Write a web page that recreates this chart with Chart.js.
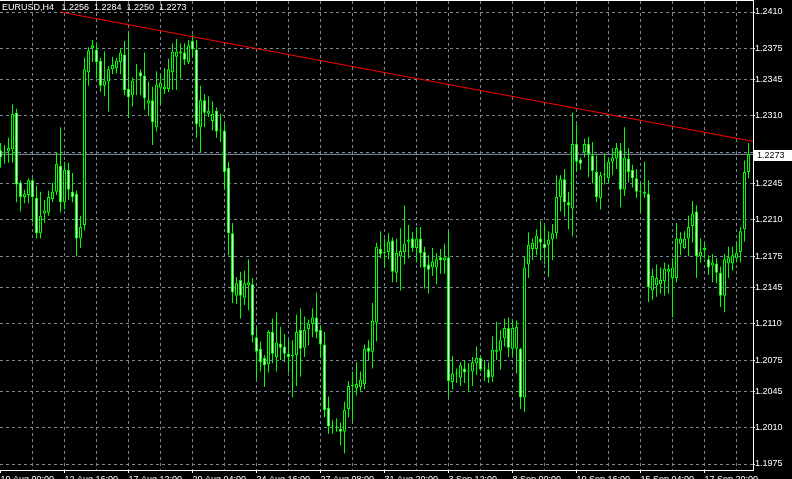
<!DOCTYPE html>
<html><head><meta charset="utf-8">
<style>html,body{margin:0;padding:0;background:#000;overflow:hidden}#c{display:block}</style>
<script src="https://cdn.jsdelivr.net/npm/chart.js@4.4.1/dist/chart.umd.min.js"></script>
</head><body>
<canvas id="c" width="792" height="479"></canvas>
<script>
const titleText = 'EURUSD,H4   1.2256  1.2284  1.2250  1.2273';
const opens = [
1.2277,1.2274,1.2276,1.2278,1.2313,1.2246,1.2232,1.2234,1.2248,1.2231,
1.2197,1.2216,1.2217,1.2230,1.2237,1.2262,1.2227,1.2258,1.2237,1.2235,
1.2192,1.2205,1.2352,1.2375,1.2374,1.2363,1.2339,1.2343,1.2355,1.2356,
1.2362,1.2369,1.2336,1.2330,1.2344,1.2352,1.2349,1.2322,1.2325,1.2299,
1.2337,1.2336,1.2336,1.2352,1.2367,1.2370,1.2371,1.2362,1.2382,1.2374,
1.2299,1.2325,1.2312,1.2305,1.2315,1.2296,1.2296,1.2260,1.2197,1.2137,
1.2152,1.2135,1.2147,1.2148,1.2097,1.2086,1.2077,1.2071,1.2102,1.2078,
1.2091,1.2088,1.2081,1.2079,1.2080,1.2104,1.2087,1.2105,1.2110,1.2116,
1.2104,1.2090,1.2029,1.2011,1.2011,1.2009,1.2006,1.2028,1.2050,1.2048,
1.2049,1.2052,1.2087,1.2083,1.2111,1.2182,1.2178,1.2179,1.2190,1.2159,
1.2175,1.2179,1.2189,1.2192,1.2183,1.2192,1.2179,1.2167,1.2164,1.2164,
1.2174,1.2171,1.2174,1.2054,1.2062,1.2058,1.2067,1.2065,1.2064,1.2072,
1.2077,1.2067,1.2066,1.2059,1.2085,1.2084,1.2096,1.2106,1.2086,1.2086,
1.2086,1.2039,1.2167,1.2182,1.2182,1.2192,1.2187,1.2186,1.2191,1.2197,
1.2232,1.2249,1.2227,1.2221,1.2283,1.2268,1.2275,1.2283,1.2272,1.2256,
1.2231,1.2253,1.2250,1.2266,1.2269,1.2277,1.2239,1.2269,1.2258,1.2250,
1.2237,1.2235,1.2235,1.2142,1.2147,1.2148,1.2151,1.2160,1.2154,1.2154,
1.2187,1.2183,1.2192,1.2204,1.2218,1.2175,1.2183,1.2172,1.2166,1.2168,
1.2159,1.2137,1.2168,1.2168,1.2173,1.2179,1.2201,1.2256];
const highs = [
1.2284,1.2282,1.2289,1.2321,1.2317,1.2248,1.2239,1.2250,1.2250,1.2243,
1.2237,1.2229,1.2238,1.2246,1.2275,1.2299,1.2266,1.2265,1.2255,1.2238,
1.2214,1.2366,1.2376,1.2383,1.2381,1.2366,1.2372,1.2358,1.2367,1.2366,
1.2375,1.2382,1.2390,1.2347,1.2360,1.2355,1.2371,1.2343,1.2338,1.2353,
1.2350,1.2356,1.2365,1.2380,1.2384,1.2380,1.2380,1.2383,1.2388,1.2383,
1.2339,1.2331,1.2329,1.2324,1.2318,1.2312,1.2303,1.2266,1.2207,1.2155,
1.2160,1.2161,1.2172,1.2154,1.2107,1.2093,1.2080,1.2104,1.2115,1.2121,
1.2107,1.2100,1.2095,1.2094,1.2119,1.2125,1.2117,1.2114,1.2125,1.2140,
1.2108,1.2102,1.2040,1.2017,1.2019,1.2015,1.2035,1.2055,1.2064,1.2073,
1.2064,1.2090,1.2094,1.2130,1.2188,1.2199,1.2192,1.2197,1.2193,1.2192,
1.2202,1.2224,1.2205,1.2198,1.2203,1.2203,1.2184,1.2176,1.2183,1.2178,
1.2182,1.2187,1.2199,1.2079,1.2067,1.2073,1.2075,1.2072,1.2078,1.2088,
1.2079,1.2075,1.2073,1.2098,1.2112,1.2104,1.2115,1.2116,1.2114,1.2113,
1.2087,1.2175,1.2198,1.2192,1.2201,1.2209,1.2205,1.2199,1.2206,1.2253,
1.2253,1.2259,1.2237,1.2313,1.2302,1.2270,1.2288,1.2290,1.2285,1.2272,
1.2256,1.2274,1.2269,1.2279,1.2284,1.2284,1.2299,1.2279,1.2263,1.2259,
1.2246,1.2266,1.2248,1.2163,1.2167,1.2164,1.2169,1.2167,1.2173,1.2207,
1.2198,1.2199,1.2214,1.2228,1.2224,1.2192,1.2188,1.2176,1.2177,1.2173,
1.2165,1.2177,1.2184,1.2184,1.2188,1.2203,1.2267,1.2284];
const lows = [
1.2260,1.2264,1.2265,1.2265,1.2227,1.2218,1.2226,1.2226,1.2208,1.2192,
1.2192,1.2207,1.2214,1.2227,1.2234,1.2217,1.2220,1.2229,1.2227,1.2175,
1.2183,1.2200,1.2339,1.2362,1.2346,1.2333,1.2329,1.2314,1.2350,1.2351,
1.2350,1.2330,1.2308,1.2319,1.2330,1.2330,1.2316,1.2310,1.2282,1.2295,
1.2321,1.2331,1.2333,1.2335,1.2335,1.2346,1.2359,1.2360,1.2367,1.2289,
1.2275,1.2299,1.2309,1.2296,1.2289,1.2285,1.2239,1.2176,1.2130,1.2129,
1.2115,1.2128,1.2123,1.2092,1.2057,1.2064,1.2049,1.2063,1.2072,1.2064,
1.2075,1.2073,1.2063,1.2039,1.2050,1.2059,1.2078,1.2089,1.2097,1.2096,
1.2077,1.2020,1.2004,1.2004,1.2006,1.1993,1.1985,1.2020,1.2015,1.2041,
1.2044,1.2047,1.2075,1.2067,1.2093,1.2173,1.2164,1.2172,1.2150,1.2150,
1.2142,1.2167,1.2173,1.2179,1.2169,1.2164,1.2144,1.2139,1.2156,1.2148,
1.2158,1.2158,1.2039,1.2047,1.2053,1.2050,1.2053,1.2044,1.2050,1.2061,
1.2064,1.2055,1.2053,1.2054,1.2075,1.2066,1.2088,1.2078,1.2080,1.2062,
1.2028,1.2025,1.2154,1.2171,1.2176,1.2171,1.2167,1.2155,1.2171,1.2192,
1.2218,1.2213,1.2201,1.2194,1.2256,1.2258,1.2270,1.2251,1.2245,1.2227,
1.2220,1.2244,1.2246,1.2253,1.2259,1.2222,1.2233,1.2246,1.2241,1.2231,
1.2217,1.2231,1.2131,1.2133,1.2136,1.2139,1.2137,1.2139,1.2116,1.2150,
1.2176,1.2182,1.2175,1.2188,1.2154,1.2169,1.2173,1.2157,1.2150,1.2149,
1.2126,1.2121,1.2154,1.2161,1.2169,1.2169,1.2189,1.2250];
const closes = [
1.2270,1.2274,1.2279,1.2312,1.2244,1.2232,1.2235,1.2248,1.2232,1.2197,
1.2214,1.2219,1.2232,1.2237,1.2264,1.2227,1.2258,1.2239,1.2232,1.2192,
1.2203,1.2355,1.2373,1.2378,1.2362,1.2339,1.2344,1.2355,1.2359,1.2363,
1.2371,1.2335,1.2328,1.2344,1.2344,1.2348,1.2327,1.2325,1.2304,1.2340,
1.2342,1.2338,1.2355,1.2372,1.2372,1.2372,1.2364,1.2378,1.2374,1.2302,
1.2325,1.2313,1.2315,1.2312,1.2295,1.2296,1.2256,1.2197,1.2140,1.2149,
1.2137,1.2149,1.2150,1.2099,1.2083,1.2073,1.2070,1.2102,1.2081,1.2092,
1.2087,1.2081,1.2078,1.2079,1.2102,1.2086,1.2104,1.2110,1.2116,1.2102,
1.2090,1.2027,1.2011,1.2011,1.2010,1.2006,1.2027,1.2050,1.2050,1.2052,
1.2056,1.2086,1.2083,1.2113,1.2184,1.2177,1.2178,1.2189,1.2160,1.2178,
1.2180,1.2187,1.2191,1.2183,1.2192,1.2178,1.2164,1.2162,1.2170,1.2172,
1.2171,1.2174,1.2055,1.2062,1.2062,1.2070,1.2063,1.2064,1.2073,1.2077,
1.2066,1.2067,1.2058,1.2085,1.2083,1.2094,1.2106,1.2087,1.2106,1.2107,
1.2039,1.2164,1.2186,1.2188,1.2195,1.2188,1.2183,1.2191,1.2197,1.2232,
1.2249,1.2227,1.2224,1.2283,1.2266,1.2264,1.2283,1.2273,1.2257,1.2232,
1.2253,1.2253,1.2266,1.2270,1.2279,1.2239,1.2270,1.2256,1.2250,1.2237,
1.2237,1.2237,1.2145,1.2156,1.2154,1.2152,1.2163,1.2163,1.2164,1.2192,
1.2192,1.2192,1.2203,1.2216,1.2175,1.2179,1.2181,1.2164,1.2169,1.2159,
1.2137,1.2172,1.2174,1.2176,1.2178,1.2199,1.2256,1.2273];

const xTickIndex  = [0,16,32,48,64,80,96,112,128,144,160,176];
const xTickLabels = ['10 Aug 00:00','12 Aug 16:00','17 Aug 12:00','20 Aug 04:00','24 Aug 16:00','27 Aug 08:00',
                     '31 Aug 20:00','3 Sep 12:00','8 Sep 00:00','10 Sep 16:00','15 Sep 04:00','17 Sep 20:00'];
const xGridIndex = [0,8,16,24,32,40,48,56,64,72,80,88,96,104,112,120,128,136,144,152,160,168,176,184];
const yTickValues = [1.1975,1.2010,1.2045,1.2075,1.2110,1.2145,1.2175,1.2210,1.2245,1.2275,1.2310,1.2345,1.2375,1.2410];
const yTickLabels = ['1.1975','1.2010','1.2045','1.2075','1.2110','1.2145','1.2175','1.2210','1.2245','','1.2310','1.2345','1.2375','1.2410'];
const bidPrice = 1.2273;
const bidLabel = '1.2273';
const trendIndex = [15, 188.125];
const trendPrice = [1.2410, 1.22855];

const X_MIN = -0.125, X_MAX = 188.125;
const Y_MIN = 1.196923, Y_MAX = 1.242059;
const FONT = '"Liberation Sans", Arial, sans-serif';

const bodies = opens.map((o, i) => ({x: i, y: [o, closes[i]]}));
const wicks = opens.map((o, i) => ({x: i, y: [lows[i], highs[i]]}));
const bodyFill = opens.map((o, i) => closes[i] < o ? '#ffffff' : '#000000');

const framePlugin = {
  id: 'frame',
  beforeDraw(chart) {
    const c = chart.ctx;
    c.save(); c.fillStyle = '#000'; c.fillRect(0, 0, chart.width, chart.height); c.restore();
  },
  afterDraw(chart) {
    const c = chart.ctx, a = chart.chartArea, ys = chart.scales.y;
    c.save();
    c.fillStyle = '#ffffff';
    c.fillRect(0, 0, a.right + 1, 1);
    const py = Math.round(ys.getPixelForValue(bidPrice));
    c.fillRect(a.right + 1, py - 4, chart.width - a.right - 1, 11);
    c.fillStyle = '#000000';
    c.font = '9px ' + FONT;
    c.textBaseline = 'middle';
    c.textAlign = 'left';
    c.fillText(bidLabel, a.right + 4, py + 1.5);
    c.fillStyle = '#ffffff';
    c.textBaseline = 'alphabetic';
    c.fillText(titleText, 2, 10);
    c.restore();
  }
};

new Chart(document.getElementById('c'), {
  type: 'bar',
  data: {
    datasets: [
      {type: 'line', label: 'trend', data: trendIndex.map((x, k) => ({x, y: trendPrice[k]})),
       borderColor: '#ff0000', borderWidth: 1, pointRadius: 0, order: 0},
      {type: 'bar', label: 'body', data: bodies, backgroundColor: bodyFill, borderColor: '#00ff00',
       borderWidth: 1, borderSkipped: false, barThickness: 3, grouped: false, minBarLength: 1,
       inflateAmount: 0, order: 1},
      {type: 'bar', label: 'wick', data: wicks, backgroundColor: '#00ff00', borderWidth: 0,
       barThickness: 1, grouped: false, inflateAmount: 0, order: 2},
      {type: 'line', label: 'bid', data: [{x: X_MIN, y: bidPrice}, {x: X_MAX, y: bidPrice}],
       borderColor: '#8a96a6', borderWidth: 1, pointRadius: 0, order: 3}
    ]
  },
  options: {
    responsive: false, animation: false, devicePixelRatio: 1,
    layout: {padding: {top: 1, left: 0, right: 0, bottom: 0}},
    plugins: {legend: {display: false}, tooltip: {enabled: false}, title: {display: false}},
    scales: {
      x: {
        type: 'linear', min: X_MIN, max: X_MAX, offset: false, position: 'bottom',
        afterBuildTicks: s => { s.ticks = xGridIndex.map(v => ({value: v})); },
        afterFit: s => { s.height = 9; s.paddingLeft = 0; s.paddingRight = 0; },
        ticks: {
          autoSkip: false, maxRotation: 0, minRotation: 0, align: 'start', padding: 1,
          color: '#ffffff', font: {family: FONT, size: 9},
          callback: v => { const k = xTickIndex.indexOf(v); return k >= 0 ? xTickLabels[k] : ''; }
        },
        grid: {
          offset: false, lineWidth: 1, tickLength: 3, tickBorderDash: [],
          color: c => (c.tick && c.tick.value === 0) ? 'rgba(0,0,0,0)' : '#778899',
          tickColor: c => (c.tick && xTickIndex.includes(c.tick.value)) ? '#ffffff' : 'rgba(0,0,0,0)'
        },
        border: {display: true, color: '#ffffff', width: 1, dash: [3, 3]}
      },
      y: {
        type: 'linear', position: 'right', min: Y_MIN, max: Y_MAX,
        afterBuildTicks: s => { s.ticks = yTickValues.map(v => ({value: v})); },
        afterFit: s => { s.width = 39; s.paddingTop = 0; s.paddingBottom = 0; },
        ticks: {
          autoSkip: false, padding: 0, color: '#ffffff', font: {family: FONT, size: 9},
          callback: (v, i) => yTickLabels[i]
        },
        grid: {lineWidth: 1, tickLength: 2, tickBorderDash: [], color: '#778899', tickColor: '#ffffff'},
        border: {display: true, color: '#ffffff', width: 1, dash: [3, 3]}
      }
    }
  },
  plugins: [framePlugin]
});
</script>
</body></html>
